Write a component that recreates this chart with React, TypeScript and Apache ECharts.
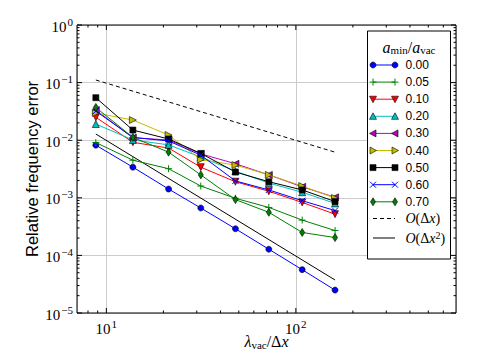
import React, { useEffect, useRef } from 'react';
import * as echarts from 'echarts';

// ---- data ----
const xValues = [8.8, 13.8, 21.3, 31.5, 48, 72, 108, 161];
const seriesLabels = ['0.00', '0.05', '0.10', '0.20', '0.30', '0.40', '0.50', '0.60', '0.70'];
const a000 = [0.0082, 0.0034, 0.00142, 0.000665, 0.00029, 0.000128, 5.65e-5, 2.5e-5];
const a005 = [0.0091, 0.0045, 0.0032, 0.0016, 0.00098, 0.00068, 0.00041, 0.00027];
const a010 = [0.025, 0.0092, 0.0073, 0.0034, 0.0019, 0.0013, 0.00083, 0.00052];
const a020 = [0.0191, 0.0101, 0.0083, 0.0051, 0.0029, 0.0018, 0.00125, 0.0008];
const a030 = [0.0334, 0.011, 0.0101, 0.0058, 0.0039, 0.0025, 0.00155, 0.00102];
const a040 = [0.0297, 0.0224, 0.0123, 0.0046, 0.0037, 0.0025, 0.0016, 0.00099];
const a050 = [0.0547, 0.015, 0.0105, 0.0059, 0.0028, 0.0019, 0.00137, 0.00086];
const a060 = [0.032, 0.0112, 0.0097, 0.0055, 0.00196, 0.00137, 0.00089, 0.0006];
const a070 = [0.037, 0.0112, 0.0062, 0.0025, 0.00093, 0.00056, 0.00025, 0.000204];
const refX = [8.8, 161];
const refLinear = [0.111, 0.0062];
const refQuadratic = [0.0128, 3.74e-5];
const xMin = 7;
const xMax = 700;
const yMin = 1e-5;
const yMax = 1;

const seriesData = [a000, a005, a010, a020, a030, a040, a050, a060, a070];
const colors = ['#0000ff', '#008000', '#ff0000', '#00bfbf', '#bf00bf', '#bfbf00', '#000000', '#0000ff', '#008000'];
const markerKinds = ['circle', 'plus', 'down', 'up', 'left', 'right', 'square', 'x', 'diamond'];

const symbolFor: Record<string, { symbol: string; size: any; stroke: boolean }> = {
  circle: { symbol: 'circle', size: 6, stroke: false },
  plus: { symbol: 'path://M5,0L5,10M0,5L10,5', size: 7, stroke: true },
  down: { symbol: 'path://M0,0L10,0L5,9Z', size: 7, stroke: false },
  up: { symbol: 'path://M5,0L10,9L0,9Z', size: 7, stroke: false },
  left: { symbol: 'path://M9,0L9,10L0,5Z', size: 7, stroke: false },
  right: { symbol: 'path://M0,0L9,5L0,10Z', size: 7, stroke: false },
  square: { symbol: 'rect', size: 6, stroke: false },
  x: { symbol: 'path://M0,0L10,10M10,0L0,10', size: 6, stroke: true },
  diamond: { symbol: 'path://M5,0L10,5L5,10L0,5Z', size: [5, 8], stroke: false },
};

const SERIF = "'Liberation Serif', 'DejaVu Serif', serif";
const SANS = "'Liberation Sans', Arial, sans-serif";

function supLabel(v: number) {
  const lg = Math.log10(v);
  const e = Math.round(lg);
  if (Math.abs(lg - e) > 1e-6) return '';
  const es = e < 0 ? '\u2212' + -e : String(e);
  return '{b|10}{s|' + es + '}';
}

const labelRich = {
  b: { fontFamily: SERIF, fontSize: 15, color: '#000', verticalAlign: 'bottom', lineHeight: 18 },
  s: { fontFamily: SERIF, fontSize: 11, color: '#000', verticalAlign: 'top', lineHeight: 18, padding: [0, 0, 0, 1] },
};

function markerGraphic(kind: string, cx: number, cy: number, color: string, z: number): any[] {
  const edge = { stroke: '#000', lineWidth: 0.6 };
  switch (kind) {
    case 'circle':
      return [{ type: 'circle', z, shape: { cx, cy, r: 3 }, style: { fill: color, ...edge } }];
    case 'plus':
      return [
        { type: 'line', z, shape: { x1: cx - 3.5, y1: cy, x2: cx + 3.5, y2: cy }, style: { stroke: color, lineWidth: 1 } },
        { type: 'line', z, shape: { x1: cx, y1: cy - 3.5, x2: cx, y2: cy + 3.5 }, style: { stroke: color, lineWidth: 1 } },
      ];
    case 'x':
      return [
        { type: 'line', z, shape: { x1: cx - 3, y1: cy - 3, x2: cx + 3, y2: cy + 3 }, style: { stroke: color, lineWidth: 1 } },
        { type: 'line', z, shape: { x1: cx - 3, y1: cy + 3, x2: cx + 3, y2: cy - 3 }, style: { stroke: color, lineWidth: 1 } },
      ];
    case 'down':
      return [{ type: 'polygon', z, shape: { points: [[cx - 3.5, cy - 3], [cx + 3.5, cy - 3], [cx, cy + 3.5]] }, style: { fill: color, ...edge } }];
    case 'up':
      return [{ type: 'polygon', z, shape: { points: [[cx - 3.5, cy + 3], [cx + 3.5, cy + 3], [cx, cy - 3.5]] }, style: { fill: color, ...edge } }];
    case 'left':
      return [{ type: 'polygon', z, shape: { points: [[cx + 3, cy - 3.5], [cx + 3, cy + 3.5], [cx - 3.5, cy]] }, style: { fill: color, ...edge } }];
    case 'right':
      return [{ type: 'polygon', z, shape: { points: [[cx - 3, cy - 3.5], [cx - 3, cy + 3.5], [cx + 3.5, cy]] }, style: { fill: color, ...edge } }];
    case 'square':
      return [{ type: 'rect', z, shape: { x: cx - 3, y: cy - 3, width: 6, height: 6 }, style: { fill: color, ...edge } }];
    case 'diamond':
      return [{ type: 'polygon', z, shape: { points: [[cx, cy - 4], [cx + 2.5, cy], [cx, cy + 4], [cx - 2.5, cy]] }, style: { fill: color, ...edge } }];
  }
  return [];
}

export default function App() {
  const ref = useRef<HTMLDivElement>(null);
  useEffect(() => {
    if (!ref.current) return;
    const chart = echarts.init(ref.current, undefined, { renderer: 'svg' });

    const series: any[] = seriesData.map((vals, i) => {
      const sym = symbolFor[markerKinds[i]];
      return {
        name: seriesLabels[i],
        type: 'line',
        data: xValues.map((x, j) => [x, vals[j]]),
        symbol: sym.symbol,
        symbolSize: sym.size,
        showSymbol: true,
        lineStyle: { color: colors[i], width: 1 },
        itemStyle: sym.stroke
          ? { color: colors[i], borderColor: colors[i], borderWidth: 1 }
          : { color: colors[i], borderColor: '#000', borderWidth: 0.6 },
        z: 3 + i,
      };
    });
    series.push({
      name: 'O(Δx)',
      type: 'line',
      data: refX.map((x, j) => [x, refLinear[j]]),
      symbol: 'none',
      lineStyle: { color: '#000', width: 1, type: [4, 3] },
      z: 2,
    });
    series.push({
      name: 'O(Δx²)',
      type: 'line',
      data: refX.map((x, j) => [x, refQuadratic[j]]),
      symbol: 'none',
      lineStyle: { color: '#000', width: 1 },
      z: 2,
    });

    chart.setOption({
      animation: false,
      backgroundColor: '#ffffff',
      grid: { left: 77, right: 24, top: 25, bottom: 47, show: true, borderColor: '#000', borderWidth: 1, backgroundColor: 'transparent', z: 1 },
      xAxis: {
        type: 'log',
        logBase: 10,
        min: xMin,
        max: xMax,
        name: '{it|λ}{sub|vac}{n|/Δ}{it|x}',
        nameLocation: 'middle',
        nameGap: 20,
        nameMoveOverlap: false,
        nameTextStyle: {
          rich: {
            it: { fontFamily: SERIF, fontStyle: 'italic', fontSize: 16, color: '#000' },
            sub: { fontFamily: SERIF, fontSize: 11, color: '#000', verticalAlign: 'bottom', padding: [6, 0, 0, 0] },
            n: { fontFamily: SERIF, fontSize: 16, color: '#000' },
          },
        },
        axisLine: { show: false },
        axisTick: { show: false },
        minorTick: { show: false },
        splitLine: { show: true, lineStyle: { color: '#cccccc', width: 1 } },
        axisLabel: { margin: 5, formatter: (v: number) => supLabel(v), rich: labelRich, showMinLabel: false, showMaxLabel: false },
      },
      yAxis: {
        type: 'log',
        logBase: 10,
        min: yMin,
        max: yMax,
        name: 'Relative frequency error',
        nameLocation: 'middle',
        nameGap: 37,
        nameMoveOverlap: false,
        nameTextStyle: { fontFamily: SANS, fontSize: 16.5, color: '#000' },
        axisLine: { show: false },
        axisTick: { show: false },
        minorTick: { show: false },
        splitLine: { show: true, lineStyle: { color: '#cccccc', width: 1 } },
        axisLabel: { margin: 4, formatter: (v: number) => supLabel(v), rich: labelRich },
      },
      series,
    });

    // ticks (inward, on all four sides) placed through the axes' own scales
    const px = (x: number, y: number) => chart.convertToPixel({ seriesIndex: 0 }, [x, y]) as number[];
    const [left, bottom] = px(xMin, yMin);
    const [right, top] = px(xMax, yMax);
    const g: any[] = [];
    const tickStyle = { stroke: '#000', lineWidth: 1 };
    for (let k = 0; k <= 3; k++) {
      for (let m = 1; m <= 9; m++) {
        const v = m * Math.pow(10, k);
        if (v <= xMin || v >= xMax) continue;
        const len = m === 1 ? 5 : 2.5;
        const x = px(v, yMin)[0];
        g.push({ type: 'line', shape: { x1: x, y1: bottom, x2: x, y2: bottom - len }, style: tickStyle, z: 50 });
        g.push({ type: 'line', shape: { x1: x, y1: top, x2: x, y2: top + len }, style: tickStyle, z: 50 });
      }
    }
    for (let k = -5; k <= 0; k++) {
      for (let m = 1; m <= 9; m++) {
        const v = m * Math.pow(10, k);
        if (v <= yMin * 0.999 || v >= yMax * 1.001) continue;
        const len = m === 1 ? 5 : 2.5;
        const y = px(xMin, v)[1];
        g.push({ type: 'line', shape: { x1: left, y1: y, x2: left + len, y2: y }, style: tickStyle, z: 50 });
        g.push({ type: 'line', shape: { x1: right, y1: y, x2: right - len, y2: y }, style: tickStyle, z: 50 });
      }
    }

    // legend box
    const lx = 367.5, ly = 31, lw = 83, lh = 228;
    g.push({ type: 'rect', shape: { x: lx, y: ly, width: lw, height: lh }, style: { fill: '#fff', stroke: '#000', lineWidth: 1 }, z: 60 });
    g.push({
      type: 'text',
      x: lx + lw / 2,
      y: 47,
      z: 61,
      style: {
        text: '{it|a}{sub|min}{n|/}{it|a}{sub|vac}',
        align: 'center',
        verticalAlign: 'middle',
        rich: {
          it: { fontFamily: SERIF, fontStyle: 'italic', fontSize: 16, fill: '#000' },
          sub: { fontFamily: SERIF, fontSize: 11, fill: '#000', verticalAlign: 'bottom', padding: [6, 0, 0, 0] },
          n: { fontFamily: SERIF, fontSize: 16, fill: '#000' },
        },
      },
    });
    const x1 = 373, x2 = 395, tx = 405.5;
    seriesLabels.forEach((lab, i) => {
      const y = 65 + i * 17.1;
      g.push({ type: 'line', shape: { x1, y1: y, x2, y2: y }, style: { stroke: colors[i], lineWidth: 1 }, z: 61 });
      g.push(...markerGraphic(markerKinds[i], x1, y, colors[i], 62));
      g.push(...markerGraphic(markerKinds[i], x2, y, colors[i], 62));
      g.push({ type: 'text', x: tx, y, z: 62, style: { text: lab, fontFamily: SANS, fontSize: 12, fill: '#000', verticalAlign: 'middle' } });
    });
    const yLin = 218.5, yQuad = 238;
    g.push({ type: 'line', shape: { x1, y1: yLin, x2, y2: yLin }, style: { stroke: '#000', lineWidth: 1, lineDash: [4, 3] }, z: 61 });
    g.push({ type: 'line', shape: { x1, y1: yQuad, x2, y2: yQuad }, style: { stroke: '#000', lineWidth: 1 }, z: 61 });
    const refRich = {
      it: { fontFamily: SERIF, fontStyle: 'italic', fontSize: 14, fill: '#000' },
      n: { fontFamily: SERIF, fontSize: 14, fill: '#000' },
      sup: { fontFamily: SERIF, fontSize: 10, fill: '#000', verticalAlign: 'top', padding: [0, 0, 6, 0] },
    };
    g.push({ type: 'text', x: tx, y: yLin, z: 62, style: { text: '{it|O}{n|(Δ}{it|x}{n|)}', verticalAlign: 'middle', rich: refRich } });
    g.push({ type: 'text', x: tx, y: yQuad, z: 62, style: { text: '{it|O}{n|(Δ}{it|x}{sup|2}{n|)}', verticalAlign: 'middle', rich: refRich } });

    chart.setOption({ graphic: g });

    return () => chart.dispose();
  }, []);
  return <div ref={ref} style={{ position: 'fixed', left: 0, top: 0, width: 480, height: 360, background: '#fff' }} />;
}
